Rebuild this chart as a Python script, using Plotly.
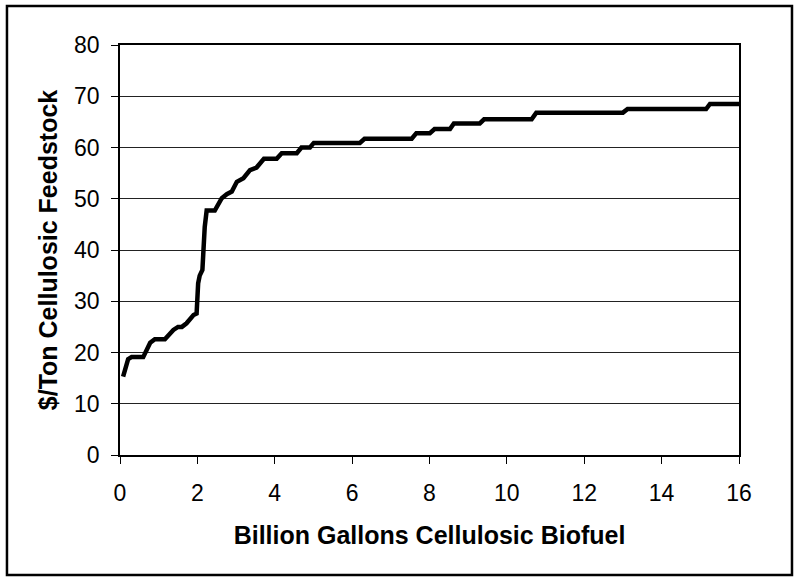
import plotly.graph_objects as go

# Data
gallons = [0.08, 0.21, 0.3, 0.6, 0.78, 0.9, 1.16, 1.38, 1.5, 1.6,
           1.72, 1.9, 1.98, 2.02, 2.06, 2.13, 2.19, 2.24, 2.45, 2.63,
           2.76, 2.89, 3.02, 3.19, 3.36, 3.53, 3.72, 4.05, 4.18, 4.57,
           4.69, 4.91, 5.01, 6.2, 6.32, 7.54, 7.66, 8.01, 8.13, 8.53,
           8.63, 9.3, 9.41, 10.64, 10.76, 13.0, 13.12, 15.15, 15.25, 16.0]
price = [15.3, 18.7, 19.1, 19.1, 21.9, 22.6, 22.6, 24.4, 25.0, 25.0,
         25.7, 27.3, 27.6, 33.5, 35.0, 36.1, 44.5, 47.7, 47.7, 50.1,
         50.9, 51.4, 53.3, 54.0, 55.6, 56.1, 57.8, 57.8, 58.9, 58.9,
         60.0, 60.0, 60.9, 60.9, 61.7, 61.7, 62.8, 62.8, 63.6, 63.6,
         64.7, 64.7, 65.5, 65.5, 66.8, 66.8, 67.5, 67.5, 68.5, 68.5]

x_ticks = [0, 2, 4, 6, 8, 10, 12, 14, 16]
y_ticks = [0, 10, 20, 30, 40, 50, 60, 70, 80]
x_title = "Billion Gallons Cellulosic Biofuel"
y_title = "$/Ton Cellulosic Feedstock"

FONT = "Liberation Sans, Arial, sans-serif"

fig = go.Figure()
fig.add_trace(go.Scatter(
    x=gallons, y=price, mode="lines",
    line=dict(color="black", width=4.5),
    showlegend=False, hoverinfo="skip",
))

fig.update_layout(
    width=799, height=579,
    margin=dict(l=120, r=60, t=45, b=124),
    paper_bgcolor="white", plot_bgcolor="white",
    font=dict(family=FONT, color="black", size=23),
    xaxis=dict(
        range=[0, 16], tickvals=x_ticks, ticktext=[str(v) for v in x_ticks],
        ticks="outside", ticklen=7, tickwidth=1, tickcolor="black",
        showline=True, linecolor="black", linewidth=1.5, mirror=True,
        showgrid=False, zeroline=False, ticklabelstandoff=10,
        tickfont=dict(size=23),
        title=dict(text="<b>" + x_title + "</b>", font=dict(size=25), standoff=21),
    ),
    yaxis=dict(
        range=[0, 80], tickvals=y_ticks, ticktext=[str(v) for v in y_ticks],
        ticks="outside", ticklen=7, tickwidth=1, tickcolor="black",
        showline=True, linecolor="black", linewidth=1.5, mirror=True,
        showgrid=True, gridcolor="#222222", gridwidth=1, zeroline=False,
        ticklabelstandoff=7, tickfont=dict(size=23),
        title=dict(text="<b>" + y_title + "</b>", font=dict(size=25), standoff=9),
    ),
    shapes=[dict(
        type="rect", xref="paper", yref="paper",
        x0=-0.1826, x1=1.0856, y0=-0.2927, y1=1.0951,
        line=dict(color="black", width=2.5), fillcolor="rgba(0,0,0,0)",
        layer="below",
    )],
)

fig.write_html("out.html", config={"displayModeBar": False},
               post_script="document.body.style.margin='0px';")
